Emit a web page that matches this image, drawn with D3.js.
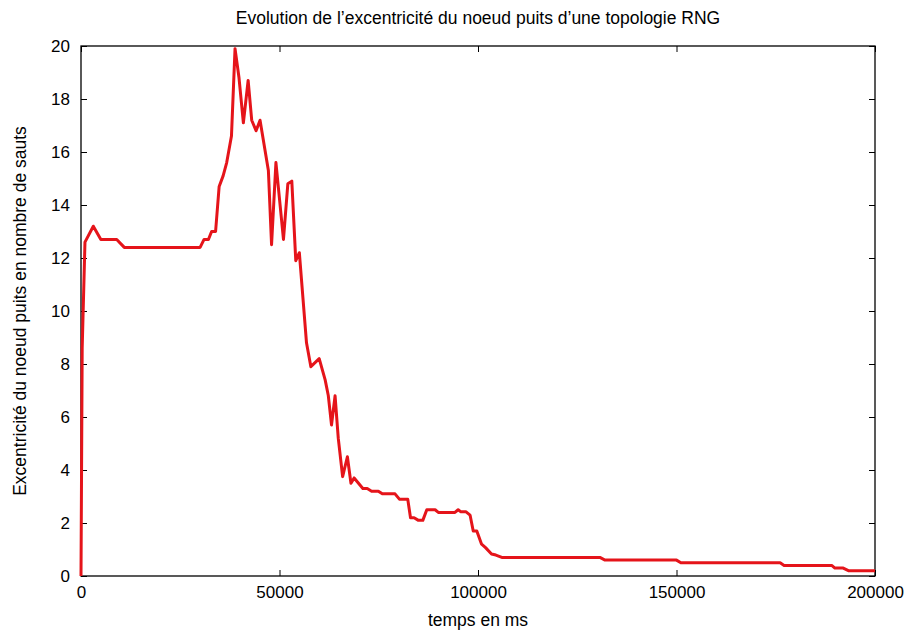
<!DOCTYPE html>
<html>
<head>
<meta charset="utf-8">
<script src="https://cdn.jsdelivr.net/npm/d3@7"></script>
<style>
  body { margin: 0; background: #fff; }
  text { font-family: "Liberation Sans", Arial, sans-serif; fill: #000; }
</style>
</head>
<body>
<svg id="chart" width="908" height="632"></svg>
<script>
// time in ms, eccentricity in hops
const times = [
  0, 300, 1000, 3100, 5000, 9000, 10900, 30000, 31000, 32100, 32900, 33900,
  34800, 35800, 36700, 37900, 38800, 39800, 40900, 42100, 43000, 44100, 45100,
  47200, 48000, 49100, 51000, 52100, 53100, 54100, 55000, 56800, 57900, 60000,
  61500, 62300, 63100, 64000, 64800, 65900, 67100, 68000, 68800, 71000, 72100,
  73200, 74900, 75900, 79100, 80200, 82300, 83000, 83900, 85000, 86100, 87100,
  89200, 90000, 94200, 95000, 95700, 97000, 98000, 98800, 99700, 100900, 101900,
  103400, 104500, 106000, 130700, 132000, 150000, 151100, 176100, 177100,
  189100, 189900, 192000, 193300, 200000
];
const ecc = [
  0, 8.6, 12.6, 13.2, 12.7, 12.7, 12.4, 12.4, 12.7, 12.7, 13.0, 13.0,
  14.7, 15.1, 15.6, 16.6, 19.9, 18.8, 17.1, 18.7, 17.2, 16.8, 17.2,
  15.3, 12.5, 15.6, 12.7, 14.8, 14.9, 11.9, 12.2, 8.8, 7.9, 8.2,
  7.4, 6.8, 5.7, 6.8, 5.2, 3.75, 4.5, 3.5, 3.7, 3.3, 3.3,
  3.2, 3.2, 3.1, 3.1, 2.9, 2.9, 2.2, 2.2, 2.1, 2.1, 2.5,
  2.5, 2.4, 2.4, 2.5, 2.42, 2.42, 2.3, 1.7, 1.7, 1.2, 1.07,
  0.83, 0.79, 0.7, 0.7, 0.6, 0.6, 0.5, 0.5, 0.4,
  0.4, 0.3, 0.3, 0.2, 0.2
];
const xTicks = [0, 50000, 100000, 150000, 200000];
const yTicks = [0, 2, 4, 6, 8, 10, 12, 14, 16, 18, 20];

const title = "Evolution de l\u2019excentricit\u00e9 du noeud puits d\u2019une topologie RNG";
const xLabel = "temps en ms";
const yLabel = "Excentricit\u00e9 du noeud puits en nombre de sauts";

const margin = { top: 46, right: 33, bottom: 56, left: 81 };
const W = 908, H = 632;
const w = W - margin.left - margin.right;
const h = H - margin.top - margin.bottom;

const svg = d3.select("#chart");
const g = svg.append("g").attr("transform", `translate(${margin.left},${margin.top})`);

const x = d3.scaleLinear().domain([0, 200000]).range([0, w]);
const y = d3.scaleLinear().domain([0, 20]).range([h, 0]);

const tickLen = 6;

// bottom + top ticks (gnuplot style, pointing inward)
g.append("g").attr("transform", `translate(0,${h})`)
  .call(d3.axisBottom(x).tickValues(xTicks).tickSize(-tickLen).tickPadding(10).tickFormat(d3.format("d")))
  .call(a => a.select(".domain").remove());
g.append("g")
  .call(d3.axisTop(x).tickValues(xTicks).tickSize(-tickLen).tickFormat(""))
  .call(a => a.select(".domain").remove());

// left + right ticks
g.append("g")
  .call(d3.axisLeft(y).tickValues(yTicks).tickSize(-tickLen).tickPadding(11).tickFormat(d3.format("d")))
  .call(a => a.select(".domain").remove());
g.append("g").attr("transform", `translate(${w},0)`)
  .call(d3.axisRight(y).tickValues(yTicks).tickSize(-tickLen).tickFormat(""))
  .call(a => a.select(".domain").remove());

svg.selectAll(".tick line").attr("stroke", "#000").attr("stroke-width", 1);
svg.selectAll(".tick text").attr("font-size", 17).attr("font-family", "Liberation Sans, Arial, sans-serif");

// frame
g.append("rect")
  .attr("x", 0).attr("y", 0).attr("width", w).attr("height", h)
  .attr("fill", "none").attr("stroke", "#000").attr("stroke-width", 1.3);

// data line
const pts = times.map((t, i) => [t, ecc[i]]);
g.append("path")
  .datum(pts)
  .attr("fill", "none")
  .attr("stroke", "#e5141a")
  .attr("stroke-width", 3)
  .attr("stroke-linejoin", "round")
  .attr("d", d3.line().x(d => x(d[0])).y(d => y(d[1])));

// texts
svg.append("text")
  .attr("x", margin.left + w / 2).attr("y", 24)
  .attr("text-anchor", "middle").attr("font-size", 17.5)
  .text(title);

svg.append("text")
  .attr("x", margin.left + w / 2).attr("y", 626)
  .attr("text-anchor", "middle").attr("font-size", 17.5)
  .text(xLabel);

svg.append("text")
  .attr("transform", `translate(26,${margin.top + h / 2}) rotate(-90)`)
  .attr("text-anchor", "middle").attr("font-size", 17.5)
  .text(yLabel);
</script>
</body>
</html>
